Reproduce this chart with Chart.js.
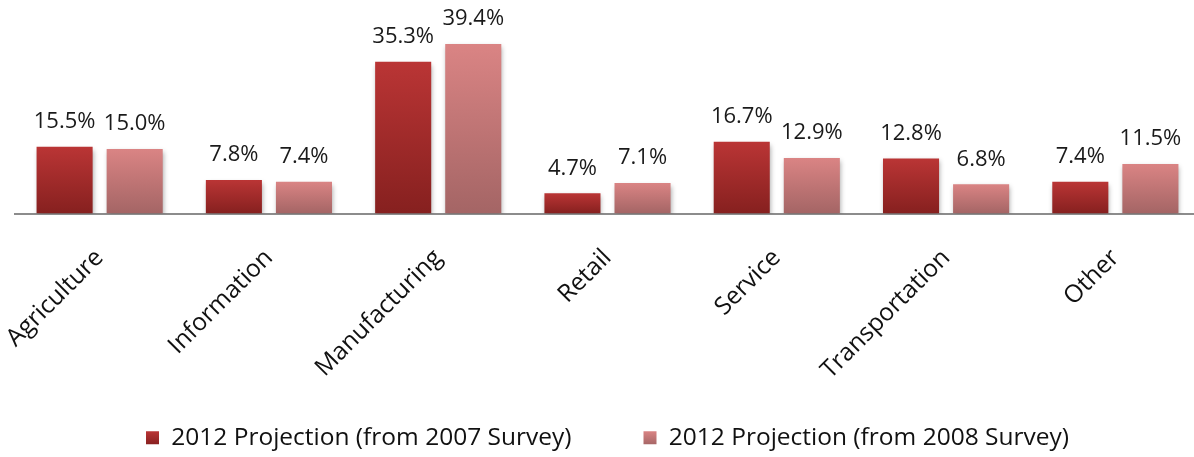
<!DOCTYPE html>
<html>
<head>
<meta charset="utf-8">
<script src="https://cdn.jsdelivr.net/npm/chart.js@4"></script>
<style>
html,body{margin:0;padding:0;background:#fff;overflow:hidden;}
#wrap{width:1194px;height:457px;position:relative;overflow:hidden;}
</style>
</head>
<body>
<div id="wrap"><canvas id="c" width="1200" height="457"></canvas></div>
<script>
const categories = ["Agriculture","Information","Manufacturing","Retail","Service","Transportation","Other"];
const seriesNames = ["2012 Projection (from 2007 Survey)","2012 Projection (from 2008 Survey)"];
const survey2007 = [15.5, 7.8, 35.3, 4.7, 16.7, 12.8, 7.4];
const survey2008 = [15.0, 7.4, 39.4, 7.1, 12.9, 6.8, 11.5];

const palettes = [
  {top:"#BA3535", bottom:"#86201F"},
  {top:"#DA8484", bottom:"#A46565"}
];

function gradFill(pi){
  return function(ctx){
    const chart = ctx.chart;
    const p = palettes[pi];
    if(!chart.chartArea || ctx.type !== 'data') return p.top;
    const ys = chart.scales.y;
    const top = ys.getPixelForValue(ctx.raw);
    const base = ys.getPixelForValue(0);
    if(!isFinite(top) || base - top < 1) return p.top;
    const g = chart.ctx.createLinearGradient(0, top, 0, base);
    g.addColorStop(0, p.top);
    g.addColorStop(1, p.bottom);
    return g;
  };
}

const shadowPlugin = {
  id:'shadow',
  beforeDatasetsDraw(chart){
    const c = chart.ctx;
    c.save();
    c.shadowColor = 'rgba(0,0,0,0.35)';
    c.shadowBlur = 5;
    c.shadowOffsetX = 1;
    c.shadowOffsetY = 3;
  },
  afterDatasetsDraw(chart){
    chart.ctx.restore();
  }
};

const valueLabels = {
  id:'valueLabels',
  afterDatasetsDraw(chart){
    const c = chart.ctx;
    c.save();
    c.font = '22px "Open Sans", sans-serif';
    c.fillStyle = '#1a1a1a';
    c.textAlign = 'center';
    c.textBaseline = 'bottom';
    chart.data.datasets.forEach((ds, di) => {
      const meta = chart.getDatasetMeta(di);
      meta.data.forEach((el, i) => {
        c.fillText(ds.data[i].toFixed(1) + '%', el.x, el.y - 14);
      });
    });
    c.restore();
  }
};

new Chart(document.getElementById('c'), {
  type:'bar',
  data:{
    labels: categories,
    datasets:[
      {label: seriesNames[0], data: survey2007, backgroundColor: gradFill(0), borderWidth:0},
      {label: seriesNames[1], data: survey2008, backgroundColor: gradFill(1), borderWidth:0}
    ]
  },
  options:{
    responsive:false,
    animation:false,
    devicePixelRatio:1,
    layout:{padding:{top:20,left:15,right:0,bottom:-3}},
    datasets:{bar:{categoryPercentage:0.828, barPercentage:0.8}},
    scales:{
      x:{
        grid:{display:false, drawTicks:false},
        border:{display:true, color:'#8c8c8c', width:2},
        ticks:{
          color:'#111',
          font:{family:'"Open Sans", sans-serif', size:24.5},
          minRotation:45, maxRotation:45, padding:30, autoSkip:false
        },
        afterFit(scale){
          scale.height = 140;
          scale.paddingLeft = 0;
          scale.paddingRight = 0;
          scale._computeLabelArea = function(){ return undefined; };
        }
      },
      y:{display:false, min:0, max:45}
    },
    plugins:{
      legend:{
        position:'bottom',
        labels:{
          color:'#111',
          font:{family:'"Open Sans", sans-serif', size:24.5},
          boxWidth:13, boxHeight:13, padding:72,
          generateLabels(chart){
            return chart.data.datasets.map((ds, i) => {
              const g = chart.ctx.createLinearGradient(0, 431, 0, 445);
              g.addColorStop(0, palettes[i].top);
              g.addColorStop(1, palettes[i].bottom);
              return {
                text: ds.label,
                fillStyle: g,
                strokeStyle: 'rgba(0,0,0,0)',
                lineWidth: 0,
                hidden: false,
                datasetIndex: i,
                fontColor:'#111'
              };
            });
          }
        }
      },
      tooltip:{enabled:false}
    }
  },
  plugins:[shadowPlugin, valueLabels]
});
</script>
</body>
</html>
